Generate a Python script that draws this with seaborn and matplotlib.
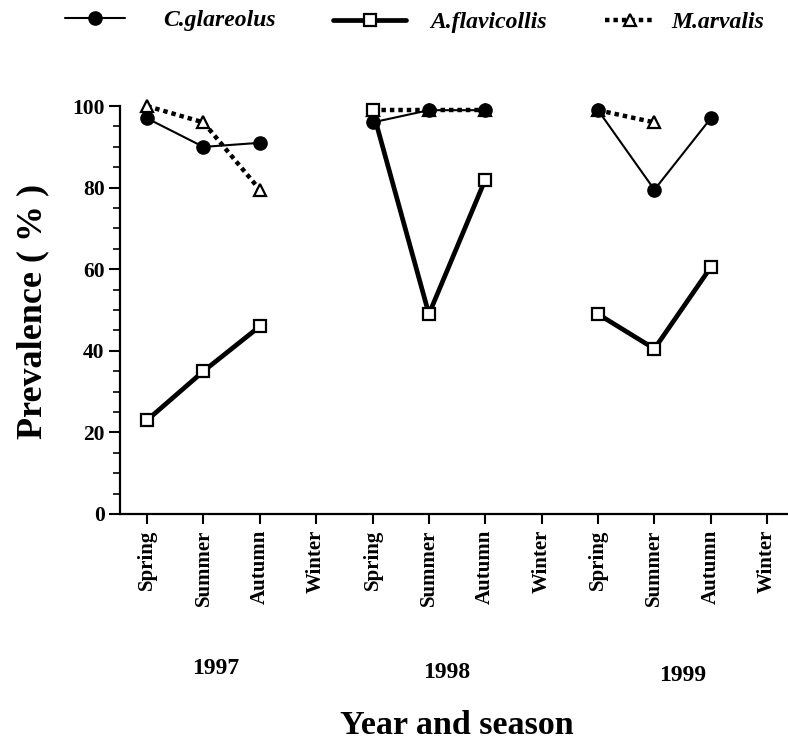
import numpy as np
import pandas as pd
import matplotlib
matplotlib.use("Agg")
import matplotlib.pyplot as plt
import matplotlib.transforms as mtransforms
from matplotlib.lines import Line2D
import seaborn as sns

# ---- data ----
seasons = ["Spring", "Summer", "Autumn", "Winter"] * 3
years = [1997] * 4 + [1998] * 4 + [1999] * 4
year_labels = ["1997", "1998", "1999"]
c_glareolus = [97, 90, 91, np.nan, 96, 99, 99, np.nan, 99, 79.5, 97, np.nan]
a_flavicollis = [23, 35, 46, np.nan, 99, 49, 82, np.nan, 49, 40.5, 60.5, np.nan]
m_arvalis = [100, 96, 79.5, np.nan, 99, 99, 99, np.nan, 99, 96, np.nan, np.nan]
species = ["C.glareolus", "A.flavicollis", "M.arvalis"]

pos = list(range(len(seasons)))
frames = []
for name, vals in zip(species, [c_glareolus, a_flavicollis, m_arvalis]):
    frames.append(pd.DataFrame({"pos": pos, "year": years, "value": vals, "species": name}))
df = pd.concat(frames, ignore_index=True).dropna()

sns.set_style("ticks")
plt.rcParams["font.family"] = ["Liberation Serif", "DejaVu Serif"]
plt.rcParams["font.weight"] = "bold"
for k in ["text.color", "axes.labelcolor", "xtick.color", "ytick.color", "axes.edgecolor"]:
    plt.rcParams[k] = "black"

fig = plt.figure(figsize=(7.88, 7.42), dpi=100)
ax = fig.add_axes([0.1523, 0.3073, 0.8477, 0.5497])

styles = {
    "M.arvalis": dict(color="black", lw=3.2, dashes=(1.0, 0.9), marker="^", ms=8.5,
                      mfc="white", mec="black", mew=1.6, dash_capstyle="butt"),
    "C.glareolus": dict(color="black", lw=1.5, marker="o", ms=9.5,
                        mfc="black", mec="black", mew=1.0),
    "A.flavicollis": dict(color="black", lw=3.4, marker="s", ms=9,
                          mfc="white", mec="black", mew=1.6),
}
for name in ["M.arvalis", "C.glareolus", "A.flavicollis"]:
    sub = df[df["species"] == name]
    st = dict(styles[name])
    dashes = st.pop("dashes", None)
    sns.lineplot(data=sub, x="pos", y="value", units="year", estimator=None,
                 ax=ax, legend=False, clip_on=False, **st)
    if dashes is not None:
        for ln in ax.lines[-sub["year"].nunique():]:
            ln.set_dashes(dashes)

ax.set_xlim(-0.48, 11.37)
ax.set_ylim(0, 100)
ax.set_yticks([0, 20, 40, 60, 80, 100])
ax.set_yticks(np.arange(0, 101, 5), minor=True)
ax.set_xticks(pos)
ax.set_xticklabels(seasons, rotation=90, fontsize=15, fontweight="bold")
ax.tick_params(axis="y", labelsize=15.5, width=1.5, length=8, pad=3, colors="black")
ax.tick_params(axis="y", which="minor", width=1.2, length=5, colors="black")
ax.tick_params(axis="x", width=1.5, length=7, pad=4, colors="black")
for lab in ax.get_yticklabels():
    lab.set_fontweight("bold")
ax.set_xlabel("")
ax.set_ylabel("")
for s in ["top", "right"]:
    ax.spines[s].set_visible(False)
for s in ["left", "bottom"]:
    ax.spines[s].set_linewidth(1.6)
    ax.spines[s].set_color("black")

# year labels
trans = mtransforms.blended_transform_factory(ax.transData, fig.transFigure)
for lab, xd, yf in zip(year_labels, [1.22, 5.32, 9.5], [0.0997, 0.093, 0.089]):
    fig.text(xd, yf, lab, transform=trans, ha="center", va="center",
             fontsize=17, fontweight="bold", color="black")

fig.text(0.58, 0.022, "Year and season", ha="center", va="center",
         fontsize=24.5, fontweight="bold", color="black")
fig.text(0.042, 0.58, "Prevalence ( % )", ha="center", va="center",
         rotation=90, fontsize=26, fontweight="bold", color="black")

# legend entries
leg_specs = [
    ("C.glareolus", 65, 0.973, 2.55, 1.6),
    ("A.flavicollis", 333, 0.970, 3.1, 1.0),
    ("M.arvalis", 605, 0.970, 2.1, 0.7),
]
for name, x0, yf, hl, tp in leg_specs:
    st = dict(styles[name])
    dashes = st.pop("dashes", None)
    st.pop("dash_capstyle", None)
    h = Line2D([], [], **st)
    if dashes is not None:
        h.set_dashes(dashes)
    leg = fig.legend([h], [name], loc="center left", bbox_to_anchor=(x0 / 788, yf),
                     frameon=False, handlelength=hl, handletextpad=tp, borderpad=0,
                     borderaxespad=0, labelcolor="black",
                     prop=dict(family="Liberation Serif", weight="bold",
                               style="italic", size=17))

fig.savefig("out.png", dpi=100)
